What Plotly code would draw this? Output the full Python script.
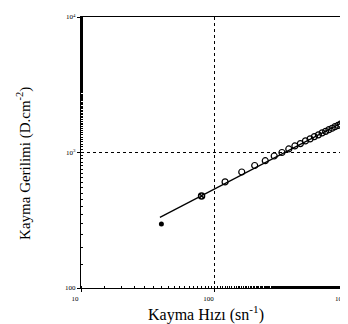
import plotly.graph_objects as go

# Data
shear_rate = [40, 80, 120, 160, 200, 240, 280, 320, 360, 400, 440, 480, 520,
              560, 600, 640, 680, 720, 760, 800, 840, 880, 920, 960, 1000]
shear_stress = [297, 478, 607, 718, 802, 870, 942, 1000, 1062, 1118, 1163, 1218,
                1260, 1310, 1350, 1395, 1432, 1475, 1510, 1552, 1583, 1622, 1655, 1690, 1722]
outlier_x = [1010]
outlier_y = [9200]
fit_x = [39, 1000]
fit_y = [332, 1750]

x_tickvals = [10, 100, 1000]
x_ticktext = ["10", "100", "1000"]
y_tickvals = [100, 1000, 10000]
y_ticktext = ["100", "10<sup>3</sup>", "10<sup>4</sup>"]

fig = go.Figure()
fig.add_trace(go.Scatter(x=fit_x, y=fit_y, mode="lines",
                         line=dict(color="black", width=1.3), showlegend=False))
fig.add_trace(go.Scatter(x=shear_rate[:1], y=shear_stress[:1], mode="markers",
                         marker=dict(symbol="circle", size=5, color="black"),
                         showlegend=False))
fig.add_trace(go.Scatter(x=shear_rate[1:2], y=shear_stress[1:2], mode="markers",
                         marker=dict(symbol="circle-x", size=6, color="white",
                                     line=dict(color="black", width=1.5)),
                         showlegend=False))
fig.add_trace(go.Scatter(x=shear_rate[2:], y=shear_stress[2:], mode="markers",
                         marker=dict(symbol="circle-open", size=6, color="black",
                                     line=dict(width=1.2)),
                         showlegend=False))
fig.add_trace(go.Scatter(x=outlier_x, y=outlier_y, mode="markers", cliponaxis=False,
                         marker=dict(symbol="circle-open", size=6, color="black",
                                     line=dict(width=1.2)),
                         showlegend=False))

axis_common = dict(
    showline=True, linecolor="black", linewidth=1.2, mirror=True,
    showgrid=True, gridcolor="black", gridwidth=1, griddash="dot",
    ticks="outside", ticklen=3, tickcolor="black",
    tickfont=dict(family="Liberation Serif", size=7, color="black"),
    minor=dict(ticks="inside", ticklen=2, tickcolor="black", showgrid=False),
    zeroline=False,
)

fig.update_xaxes(type="log", range=[1, 3], tickvals=x_tickvals, ticktext=x_ticktext,
                 ticklabelshift=-6, **axis_common)
fig.update_yaxes(type="log", range=[2, 4], tickvals=y_tickvals, ticktext=y_ticktext,
                 **axis_common)

fig.update_layout(
    width=348, height=324,
    margin=dict(l=73, r=8, t=5, b=44),
    paper_bgcolor="white", plot_bgcolor="white",
    font=dict(family="Liberation Serif", color="black"),
    annotations=[
        dict(text="Kayma Hızı (sn<sup>-1</sup>)", xref="paper", yref="paper",
             x=0.47, y=-0.094, xanchor="center", yanchor="middle", showarrow=False,
             font=dict(family="Liberation Serif", size=16, color="black")),
        dict(text="Kayma Gerilimi (D.cm<sup>-2</sup>)", xref="paper", yref="paper",
             x=-0.215, y=0.46, xanchor="center", yanchor="middle", textangle=-90,
             showarrow=False,
             font=dict(family="Liberation Serif", size=15, color="black")),
    ],
)

fig.write_html("out.html")
